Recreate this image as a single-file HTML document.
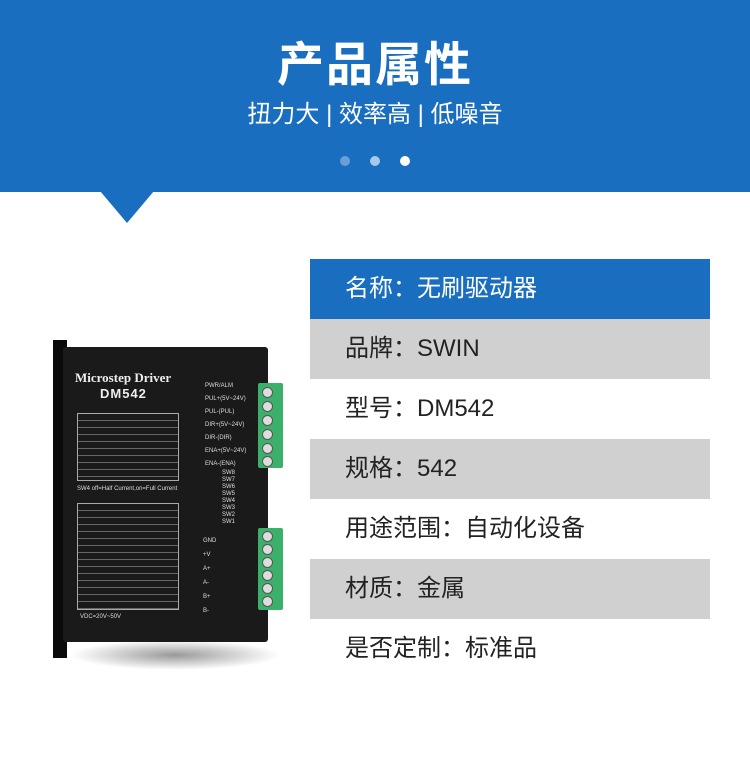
<!DOCTYPE html>
<html><head><meta charset="utf-8"><style>
*{margin:0;padding:0;box-sizing:border-box}
body{width:750px;height:784px;background:#fff;position:relative;overflow:hidden;font-family:"Liberation Sans","Noto Sans CJK SC",sans-serif}
.hdr{position:absolute;left:0;top:0;width:750px;height:192px;background:#1a6ec0}
.tri{position:absolute;left:100px;top:191px;width:0;height:0;border-left:27px solid transparent;border-right:27px solid transparent;border-top:32px solid #1a6ec0}
.t1{position:absolute;top:26px;width:750px;text-align:center;color:#fff;font-size:47px;font-weight:bold;letter-spacing:2px}
.t2{position:absolute;top:94px;width:750px;text-align:center;color:#fff;font-size:24px}
.dot{position:absolute;top:156px;width:10px;height:10px;border-radius:50%}
.row{position:absolute;left:310px;width:400px;height:60px;font-size:24px;color:#222;padding-left:35px;line-height:60px}
.dev{position:absolute;background:#141414}
.term{position:absolute;background:#3bb06a;border-radius:2px}
.scr{position:absolute;left:4px;width:11px;height:11px;border-radius:50%;background:#ddd;border:1px solid #555}
.lbl{position:absolute;color:#ddd;font-size:6px;font-family:"Liberation Sans",sans-serif}
</style></head><body>
<div class="hdr"></div><div class="tri"></div>
<div class="t1">产品属性</div>
<div class="t2">扭力大 | 效率高 | 低噪音</div>
<div class="dot" style="left:340px;background:#6a9fd6"></div>
<div class="dot" style="left:370px;background:#a9c8ea"></div>
<div class="dot" style="left:400px;background:#fff"></div>

<div class="row" style="top:259px;background:#1a6ec0;color:#fff">名称：无刷驱动器</div>
<div class="row" style="top:319px;background:#d0d0d0">品牌：SWIN</div>
<div class="row" style="top:379px;background:#fff">型号：DM542</div>
<div class="row" style="top:439px;background:#d0d0d0">规格：542</div>
<div class="row" style="top:499px;background:#fff">用途范围：自动化设备</div>
<div class="row" style="top:559px;background:#d0d0d0">材质：金属</div>
<div class="row" style="top:619px;background:#fff">是否定制：标准品</div>

<div style="position:absolute;left:70px;top:640px;width:210px;height:30px;border-radius:50%;background:radial-gradient(ellipse,#999 0%,rgba(255,255,255,0) 70%)"></div>
<div class="dev" style="left:53px;top:340px;width:14px;height:318px;background:#0a0a0a"></div>
<div class="dev" style="left:63px;top:347px;width:205px;height:295px;border-radius:3px;background:#1a1a1a"></div>
<div style="position:absolute;left:75px;top:370px;color:#eee;font-family:'Liberation Serif',serif;font-weight:bold;font-size:13px">Microstep Driver</div>
<div style="position:absolute;left:100px;top:386px;color:#eee;font-weight:bold;font-size:13px;letter-spacing:1px">DM542</div>
<div style="position:absolute;left:77px;top:413px;width:102px;height:68px;border:1px solid #aaa;background:repeating-linear-gradient(#1a1a1a 0 6px,#666 6px 7px)"></div>
<div class="lbl" style="left:77px;top:486px">SW4 off=Half Current,on=Full Current</div>
<div style="position:absolute;left:77px;top:503px;width:102px;height:107px;border:1px solid #aaa;background:repeating-linear-gradient(#1a1a1a 0 6px,#666 6px 7px)"></div>
<div class="lbl" style="left:80px;top:614px">VDC=20V~50V</div>
<div class="lbl" style="left:205px;top:380px;line-height:13px">PWR/ALM<br>PUL+(5V~24V)<br>PUL-(PUL)<br>DIR+(5V~24V)<br>DIR-(DIR)<br>ENA+(5V~24V)<br>ENA-(ENA)</div>
<div class="lbl" style="left:222px;top:470px;line-height:7px">SW8<br>SW7<br>SW6<br>SW5<br>SW4<br>SW3<br>SW2<br>SW1</div>
<div class="lbl" style="left:203px;top:534px;line-height:14px">GND<br>+V<br>A+<br>A-<br>B+<br>B-</div>
<div class="term" style="left:258px;top:383px;width:25px;height:85px">
<div class="scr" style="top:4px"></div><div class="scr" style="top:18px"></div><div class="scr" style="top:32px"></div><div class="scr" style="top:46px"></div><div class="scr" style="top:60px"></div><div class="scr" style="top:73px"></div></div>
<div class="term" style="left:258px;top:528px;width:25px;height:82px">
<div class="scr" style="top:3px"></div><div class="scr" style="top:16px"></div><div class="scr" style="top:29px"></div><div class="scr" style="top:42px"></div><div class="scr" style="top:55px"></div><div class="scr" style="top:68px"></div></div>
</body></html>
